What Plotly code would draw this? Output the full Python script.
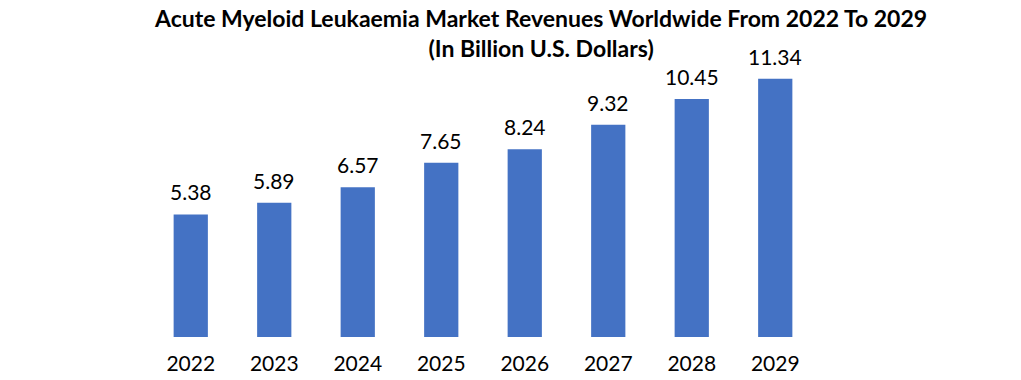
import plotly.graph_objects as go

years = ["2022", "2023", "2024", "2025", "2026", "2027", "2028", "2029"]
revenues = [5.38, 5.89, 6.57, 7.65, 8.24, 9.32, 10.45, 11.34]
labels = ["5.38", "5.89", "6.57", "7.65", "8.24", "9.32", "10.45", "11.34"]
title_lines = ["Acute Myeloid Leukaemia Market Revenues Worldwide From 2022 To 2029",
               "(In Billion U.S. Dollars)"]

fig = go.Figure()
fig.add_trace(go.Bar(
    x=years, y=revenues,
    marker=dict(color="#4472C4", line=dict(width=0)),
    cliponaxis=False, width=0.41,
))
for i, (v, lab) in enumerate(zip(revenues, labels)):
    fig.add_annotation(x=i, y=v, xref="x", yref="y", text=lab, showarrow=False,
                       yanchor="bottom", yshift=8,
                       font=dict(family="Lato", size=21, color="#000000"))
fig.add_annotation(x=(540-149)/(1021-149-204), xref="paper", y=1, yref="paper",
                   yanchor="bottom", yshift=-24,
                   text="<b>" + title_lines[0] + "<br>" + title_lines[1] + "</b>",
                   showarrow=False, xanchor="center", align="center",
                   font=dict(family="Lato", size=23, color="#000000"))
fig.update_layout(
    width=1021, height=380,
    margin=dict(l=149, r=204, t=40, b=43, autoexpand=False),
    paper_bgcolor="white", plot_bgcolor="white",
    xaxis=dict(type="category", showline=False, showgrid=False, zeroline=False, ticks="",
               ticklabelstandoff=12, range=[-0.5, len(years) - 0.5], automargin=False,
               tickfont=dict(family="Lato", size=21, color="#000000")),
    yaxis=dict(visible=False, range=[0, 13.04], automargin=False),
    showlegend=False,
)
fig.write_html("out.html")
